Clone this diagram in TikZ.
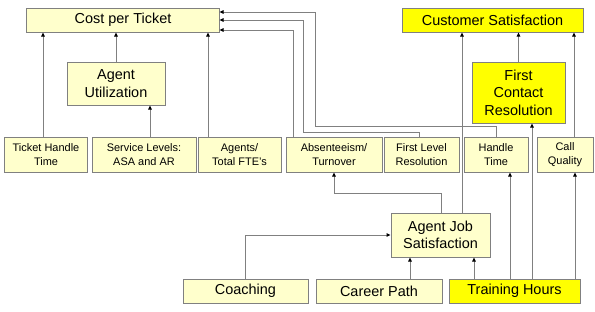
\documentclass[tikz,border=0pt]{standalone}
\usepackage{fontspec}
\setmainfont{Liberation Sans}
\usepackage{tikz}
\usetikzlibrary{arrows.meta,calc}
\definecolor{paleyel}{HTML}{FFFFCC}
\definecolor{hotyel}{HTML}{FFFF00}
\definecolor{linegray}{HTML}{808080}
\begin{document}
\begin{tikzpicture}[x=1bp,y=-1bp,
  box/.style={draw=linegray,line width=1bp,fill=paleyel,inner sep=0pt,align=center},
  hot/.style={box,fill=hotyel},
  big/.style={font=\fontsize{14.5}{17.5}\selectfont},
  small/.style={font=\fontsize{11}{14}\selectfont},
  arr/.style={draw=linegray,line width=1bp,-{Triangle[length=4bp,width=3.5bp,color=black]}}]
  \useasboundingbox (0,0) rectangle (595,311);

  % top row
  \node[box,big,minimum width=192bp,minimum height=24bp] (cost) at (123,20) {Cost per Ticket};
  \node[hot,big,minimum width=181bp,minimum height=24bp] (custsat) at (492.5,20) {Customer Satisfaction};

  % middle boxes
  \node[box,big,minimum width=98bp,minimum height=43bp] (util) at (116,83.5) {Agent\\Utilization};
  \node[hot,big,minimum width=93bp,minimum height=61bp] (fcr) at (518.5,92.5) {First\\Contact\\Resolution};

  % measures row
  \node[box,small,minimum width=82bp,minimum height=35bp] (tht) at (46,154.5) {Ticket Handle\\Time};
  \node[box,small,minimum width=104bp,minimum height=35bp] (svc) at (144,154.5) {Service Levels:\\ASA and AR};
  \node[box,small,minimum width=83bp,minimum height=35bp] (fte) at (239.5,154.5) {Agents/\\Total FTE's};
  \node[box,small,minimum width=96bp,minimum height=35bp] (absent) at (334,154.5) {Absenteeism/\\Turnover};
  \node[box,small,minimum width=75bp,minimum height=35bp] (flr) at (421.5,154.5) {First Level\\Resolution};
  \node[box,small,minimum width=64bp,minimum height=35bp] (handle) at (496,154.5) {Handle\\Time};
  \node[box,small,minimum width=56bp,minimum height=35bp] (callq) at (565,154.5) {Call\\Quality};

  % drivers
  \node[box,big,minimum width=99bp,minimum height=44bp] (ajs) at (440.5,235) {Agent Job\\Satisfaction};
  \node[box,big,minimum width=125bp,minimum height=24bp] (coach) at (245.5,291) {Coaching};
  \node[box,big,minimum width=126bp,minimum height=24bp] (career) at (379,291) {Career Path};
  \node[hot,big,minimum width=131bp,minimum height=24bp] (train) at (514.5,291) {Training Hours};

  % into cost per ticket
  \draw[arr] (tht.north -| 43,0) -- (cost.south -| 43,0);
  \draw[arr] (util.north) -- (util.north |- cost.south);
  \draw[arr] (svc.north -| 150,0) -- (util.south -| 150,0);
  \draw[arr] (fte.north -| 208,0) -- (cost.south -| 208,0);
  \draw[arr] (absent.north -| 293,0) |- (cost.east |- 0,30);
  \draw[arr] (flr.north -| 419,0) -- ++(0,-4) -| (303,20) -- (cost.east |- 0,20);
  \draw[arr] (handle.north) -- ++(0,-10) -| (315,12) -- (cost.east |- 0,12);

  % into customer satisfaction
  \draw[arr] (ajs.north -| 462,0) -- (custsat.south -| 462,0);
  \draw[arr] (fcr.north) -- (fcr.north |- custsat.south);
  \draw[arr] (callq.north -| 574,0) -- (custsat.south -| 574,0);

  % from the drivers
  \draw[arr] (ajs.north -| 441,0) -- (441,193) -| (absent.south);
  \draw[arr] (coach.north) |- (ajs.west);
  \draw[arr] (career.north -| 410,0) -- (ajs.south -| 410,0);
  \draw[arr] (train.north -| 474,0) -- (ajs.south -| 474,0);
  \draw[arr] (train.north -| 510,0) -- (handle.south -| 510,0);
  \draw[arr] (train.north -| 532,0) -- (fcr.south -| 532,0);
  \draw[arr] (train.north -| 575,0) -- (callq.south -| 575,0);
\end{tikzpicture}
\end{document}
